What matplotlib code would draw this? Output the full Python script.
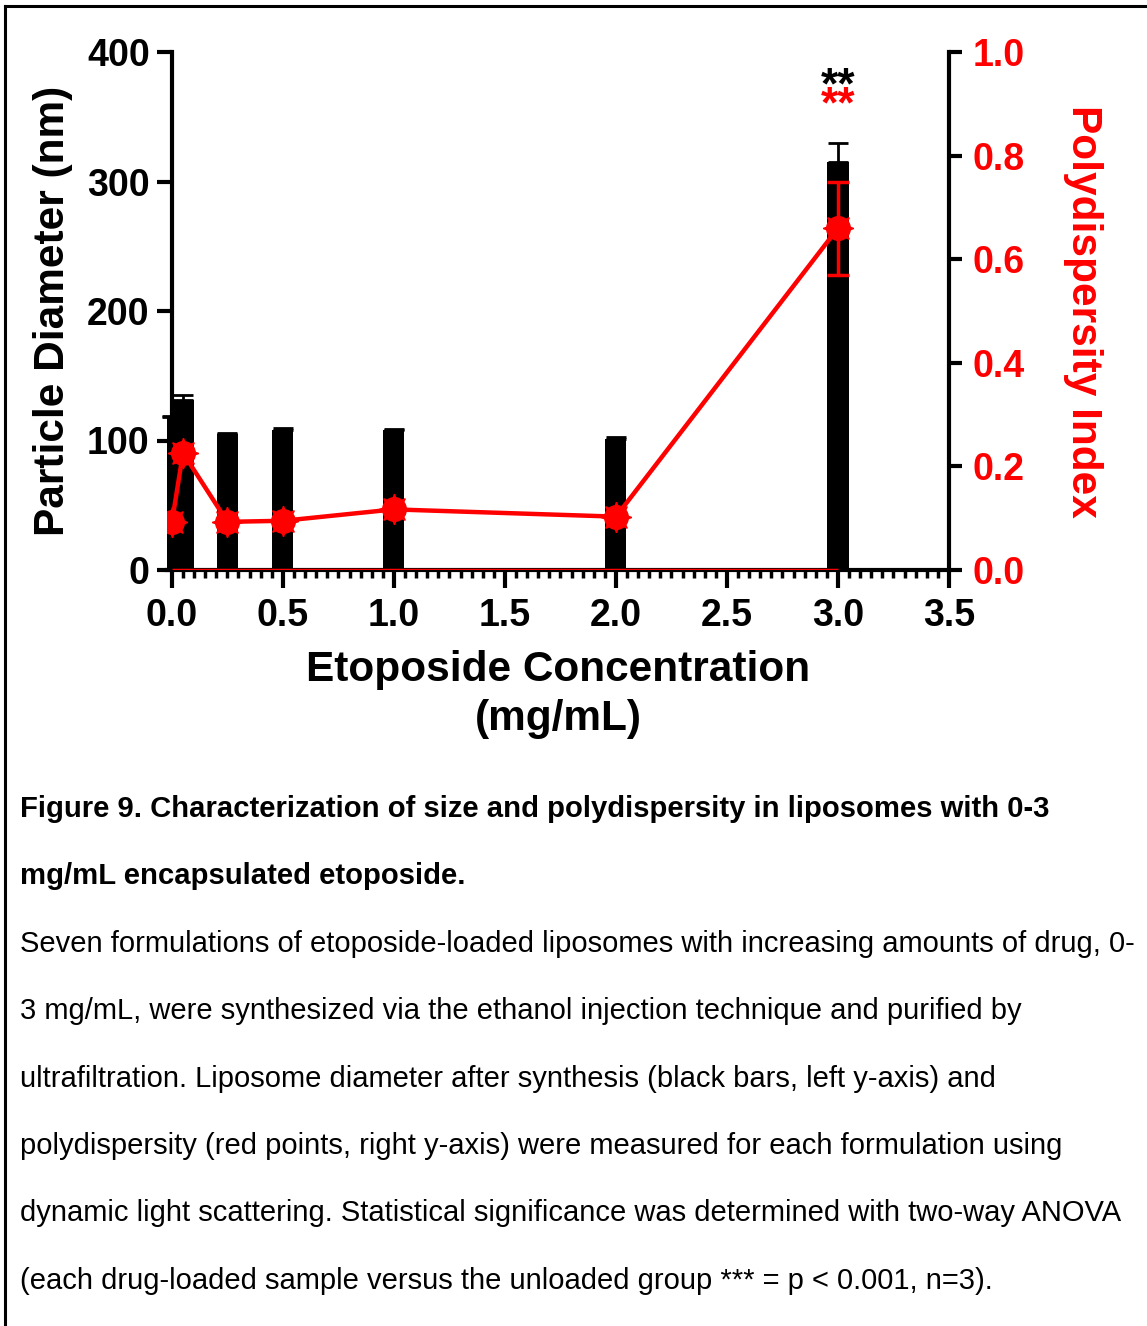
import matplotlib.pyplot as plt
from matplotlib.lines import Line2D

plt.rcParams['font.family'] = ['Liberation Sans', 'DejaVu Sans']

# 数据
conc = [0.0, 0.05, 0.25, 0.5, 1.0, 2.0, 3.0]          # mg/mL
diameter = [118, 131, 105, 108, 108, 101.5, 315]        # nm
diameter_err = [1, 4, 1, 1.5, 1, 1, 15]
pdi = [0.092, 0.226, 0.093, 0.095, 0.117, 0.103, 0.66]
pdi_err = [0.005, 0.008, 0.005, 0.005, 0.006, 0.005, 0.09]

x_ticks = [0.0, 0.5, 1.0, 1.5, 2.0, 2.5, 3.0, 3.5]
left_ticks = [0, 100, 200, 300, 400]
right_ticks = [0.0, 0.2, 0.4, 0.6, 0.8, 1.0]

W, H = 1147, 1326
fig = plt.figure(figsize=(W / 100, H / 100), dpi=100)

# 外框线（只露出左边和上边）
fig.add_artist(Line2D([5 / W, 5 / W], [0, 1 - 6 / H], color='black', lw=2.2))
fig.add_artist(Line2D([5 / W, 1], [1 - 6 / H, 1 - 6 / H], color='black', lw=2.2))

ax = fig.add_axes([167 / W, 1 - 570 / H, (949 - 167) / W, (570 - 52) / H])
ax.bar(conc, diameter, width=0.095, color='black', zorder=2)
ax.errorbar(conc, diameter, yerr=[[0] * len(diameter), diameter_err], fmt='none',
            ecolor='black', elinewidth=2, capsize=7.5, capthick=2, zorder=3, clip_on=False)
ax.set_xlim(-0.022, 3.5)
ax.set_ylim(0, 400)
ax.spines['left'].set_position(('data', 0))
ax.spines['top'].set_visible(False)
ax.spines['right'].set_visible(False)
for s in ['left', 'bottom']:
    ax.spines[s].set_linewidth(3)
ax.set_xticks(x_ticks)
ax.set_xticks([i * 0.05 for i in range(71)], minor=True)
ax.set_xticklabels([f'{v:.1f}' for v in x_ticks])
ax.set_yticks(left_ticks)
ax.tick_params(axis='x', which='major', length=13, width=3, labelsize=27, pad=7)
ax.tick_params(axis='x', which='minor', length=6, width=2.5)
ax.tick_params(axis='y', length=11, width=3, labelsize=27, pad=5)
for lab in ax.get_xticklabels() + ax.get_yticklabels():
    lab.set_fontweight('bold')
ax.set_xlabel('Etoposide Concentration\n(mg/mL)', fontsize=30.5, fontweight='bold', labelpad=12,
              linespacing=1.27)
ax.set_ylabel('Particle Diameter (nm)', fontsize=30.5, fontweight='bold')
ax.yaxis.set_label_coords(-(167 - 73) / (949 - 167), 0.5)

ax2 = ax.twinx()
ax2.set_ylim(0, 1.0)
ax2.hlines(0, conc[0], conc[-1], color='red', lw=2.5, zorder=4)
ax2.errorbar(conc, pdi, yerr=pdi_err, fmt='none', ecolor='red', elinewidth=2.5,
             capsize=8, capthick=2.5, zorder=4)
ax2.plot(conc, pdi, color='red', lw=3.2, zorder=5)
ax2.plot(conc, pdi, 'o', color='red', ms=17, zorder=6)
ax2.plot(conc, pdi, marker=(8, 1, 0), ls='none', color='red', ms=22, zorder=6)
for s in ['left', 'top', 'bottom']:
    ax2.spines[s].set_visible(False)
ax2.spines['right'].set_linewidth(3)
ax2.set_yticks(right_ticks)
ax2.set_yticklabels([f'{v:.1f}' for v in right_ticks])
ax2.tick_params(axis='y', length=9, width=3, labelsize=27, labelcolor='red', pad=8)
for lab in ax2.get_yticklabels():
    lab.set_fontweight('bold')
ax2.set_ylabel('Polydispersity Index', fontsize=30.5, fontweight='bold', color='red',
               rotation=270)
ax2.yaxis.set_label_coords((1103 - 167) / (949 - 167), 0.5)

# 显著性标记
ax.text(conc[-1], 373, '**', ha='center', va='center', fontsize=32, fontweight='bold', color='black')
ax2.text(conc[-1], 0.895, '**', ha='center', va='center', fontsize=32, fontweight='bold', color='red')

# 图注
caption_bold = ['Figure 9. Characterization of size and polydispersity in liposomes with 0-3',
                'mg/mL encapsulated etoposide.']
caption_body = ['Seven formulations of etoposide-loaded liposomes with increasing amounts of drug, 0-',
                '3 mg/mL, were synthesized via the ethanol injection technique and purified by',
                'ultrafiltration. Liposome diameter after synthesis (black bars, left y-axis) and',
                'polydispersity (red points, right y-axis) were measured for each formulation using',
                'dynamic light scattering. Statistical significance was determined with two-way ANOVA',
                '(each drug-loaded sample versus the unloaded group *** = p < 0.001, n=3).']
y0 = 809
for i, line in enumerate(caption_bold):
    fig.text(20 / W, 1 - (y0 + i * 67.4) / H, line, fontsize=21.1, fontweight='bold', va='center')
for i, line in enumerate(caption_body):
    fig.text(20 / W, 1 - (y0 + (i + 2) * 67.4) / H, line, fontsize=21, va='center')

plt.savefig('out.png', dpi=100)
